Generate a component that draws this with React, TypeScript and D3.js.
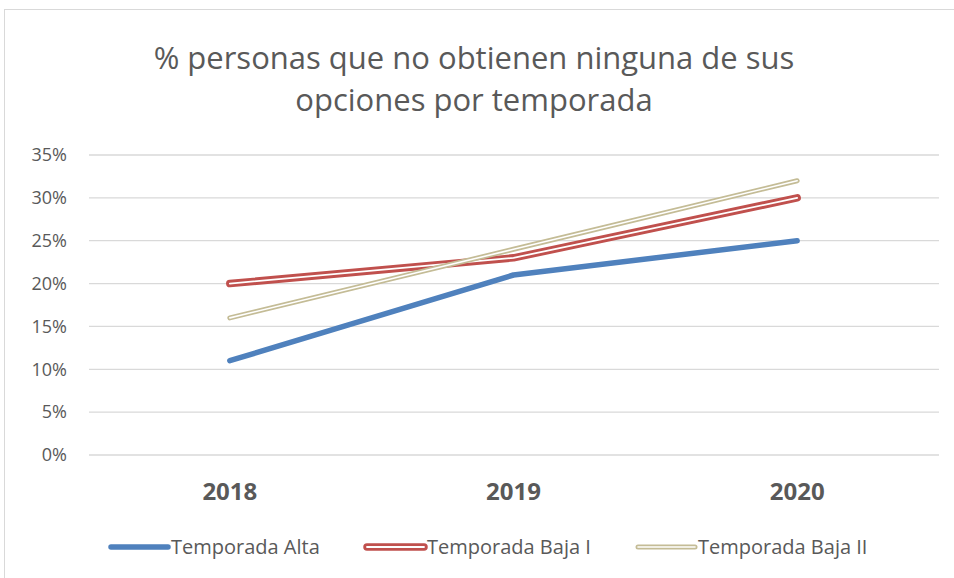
import React from "react";
import * as d3 from "d3";

const categories = ["2018", "2019", "2020"];
const seriesNames = ["Temporada Alta", "Temporada Baja I", "Temporada Baja II"];
const alta = [0.11, 0.21, 0.25];
const bajaI = [0.2, 0.23, 0.3];
const bajaII = [0.16, 0.24, 0.32];
const yTicks = [0, 0.05, 0.1, 0.15, 0.2, 0.25, 0.3, 0.35];
const titleLines = ["% personas que no obtienen ninguna de sus", "opciones por temporada"];

const W = 954;
const H = 578;
const FONT = "'Open Sans', Lato, sans-serif";

const styles = [
  { color: "#4F81BD", outer: 5.5, inner: 0 },
  { color: "#C0504D", outer: 7.5, inner: 1.8 },
  { color: "#C4BC96", outer: 5, inner: 1.6 },
];

export default function App() {
  const x = d3.scalePoint<string>().domain(categories).range([88, 939]).padding(0.5);
  const y = d3.scaleLinear().domain([0, 0.35]).range([455, 155]);
  const line = d3
    .line<number>()
    .x((_, i) => x(categories[i]) as number)
    .y((d) => y(d));
  const data = [alta, bajaI, bajaII];
  const fmt = d3.format(".0%");
  const legendX = [111, 367, 638];
  const legendY = 547;
  const sampleLen = 57;

  const drawLine = (d: string, s: typeof styles[0], key: string) => (
    <g key={key}>
      <path d={d} fill="none" stroke={s.color} strokeWidth={s.outer} strokeLinecap="round" strokeLinejoin="round" />
      {s.inner > 0 && (
        <path d={d} fill="none" stroke="#fff" strokeWidth={s.inner} strokeLinecap="round" strokeLinejoin="round" />
      )}
    </g>
  );

  return (
    <svg width={W} height={H} style={{ position: "absolute", left: 0, top: 0, background: "#fff" }} fontFamily={FONT}>
      <rect x={4.5} y={9.5} width={W + 10} height={H + 10} fill="#fff" stroke="#D9D9D9" strokeWidth={1} />
      {titleLines.map((t, i) => (
        <text key={i} x={474} y={69 + i * 42} textAnchor="middle" fontSize={31} fill="#595959">
          {t}
        </text>
      ))}
      {yTicks.map((t) => (
        <g key={t}>
          <line x1={89} x2={939} y1={y(t)} y2={y(t)} stroke="#D9D9D9" strokeWidth={1.3} />
          <text x={67} y={y(t)} dy="0.35em" textAnchor="end" fontSize={18} fill="#595959">
            {fmt(t)}
          </text>
        </g>
      ))}
      {categories.map((c) => (
        <text key={c} x={x(c)} y={492} dy="0.35em" textAnchor="middle" fontSize={24} fontWeight="bold" fill="#595959">
          {c}
        </text>
      ))}
      {data.map((s, i) => drawLine(line(s) as string, styles[i], "s" + i))}
      {seriesNames.map((n, i) => (
        <g key={n}>
          {drawLine(`M${legendX[i]},${legendY}L${legendX[i] + sampleLen},${legendY}`, styles[i], "l" + i)}
          <text x={legendX[i] + sampleLen + 3} y={legendY} dy="0.35em" fontSize={20} fill="#595959">
            {n}
          </text>
        </g>
      ))}
    </svg>
  );
}
